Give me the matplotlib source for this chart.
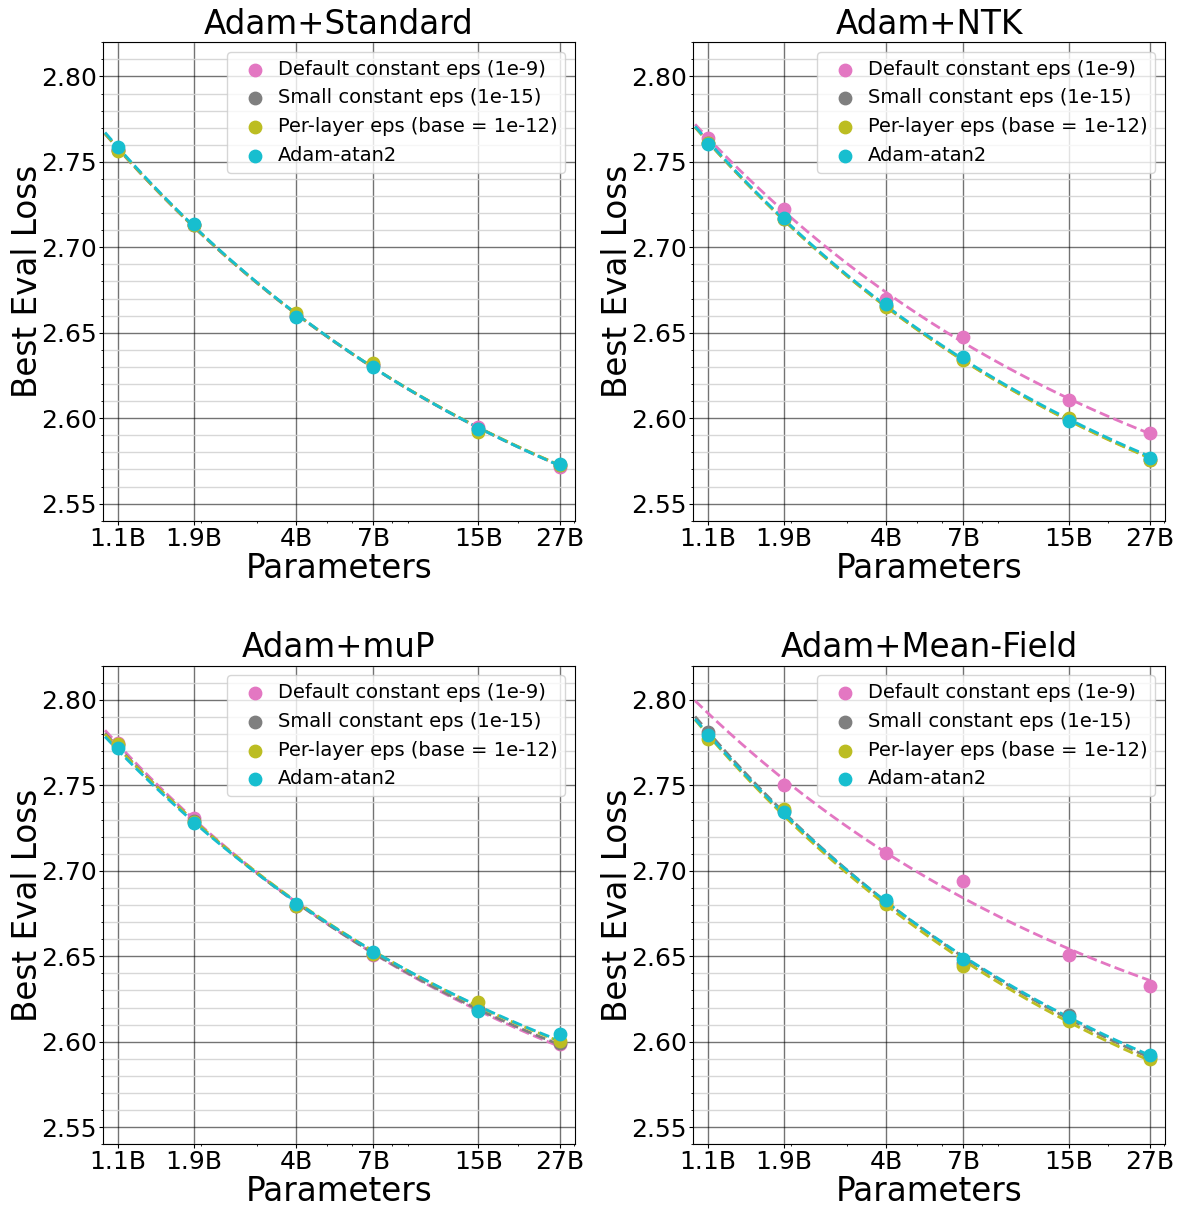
import numpy as np
import matplotlib
matplotlib.use("Agg")
import matplotlib.pyplot as plt
from matplotlib.ticker import MultipleLocator, NullFormatter, LogLocator, FormatStrFormatter

params = [1.1e9, 1.9e9, 4e9, 7e9, 15e9, 27e9]
tick_labels = ["1.1B", "1.9B", "4B", "7B", "15B", "27B"]

series_names = ["Default constant eps (1e-9)", "Small constant eps (1e-15)",
                "Per-layer eps (base = 1e-12)", "Adam-atan2"]
colors = ["#e377c2", "#7f7f7f", "#bcbd22", "#17becf"]

titles = ["Adam+Standard", "Adam+NTK", "Adam+muP", "Adam+Mean-Field"]

# Adam+Standard
std_default = [2.757, 2.713, 2.660, 2.631, 2.5947, 2.5714]
std_small = [2.757, 2.713, 2.660, 2.631, 2.5935, 2.5725]
std_perlayer = [2.7566, 2.713, 2.6613, 2.6321, 2.5922, 2.5728]
std_atan2 = [2.7586, 2.7134, 2.6593, 2.6301, 2.5938, 2.5733]

# Adam+NTK
ntk_default = [2.764, 2.7222, 2.6696, 2.6478, 2.6107, 2.5912]
ntk_small = [2.761, 2.7163, 2.6655, 2.6345, 2.5995, 2.5758]
ntk_perlayer = [2.761, 2.7165, 2.6648, 2.6340, 2.6000, 2.5753]
ntk_atan2 = [2.7607, 2.7173, 2.6667, 2.6360, 2.5986, 2.5768]

# Adam+muP
mup_default = [2.7747, 2.7309, 2.6795, 2.6507, 2.6185, 2.5985]
mup_small = [2.7735, 2.7290, 2.6795, 2.6515, 2.6190, 2.5995]
mup_perlayer = [2.7740, 2.7285, 2.6793, 2.6515, 2.6232, 2.6006]
mup_atan2 = [2.7720, 2.7280, 2.6803, 2.6526, 2.6180, 2.6043]

# Adam+Mean-Field
mf_default = [np.nan, 2.7500, 2.7106, 2.6941, 2.6510, 2.6328]
mf_small = [2.7815, 2.7350, 2.6820, 2.6460, 2.6156, 2.5910]
mf_perlayer = [2.7772, 2.7363, 2.6803, 2.6442, 2.6121, 2.5897]
mf_atan2 = [2.7792, 2.7344, 2.6832, 2.6481, 2.6146, 2.5923]

panels = [
    [std_default, std_small, std_perlayer, std_atan2],
    [ntk_default, ntk_small, ntk_perlayer, ntk_atan2],
    [mup_default, mup_small, mup_perlayer, mup_atan2],
    [mf_default, mf_small, mf_perlayer, mf_atan2],
]


def fit_all(x, ys_list):
    """Least-squares fit of y = c + A * x^-b, exponent b shared by all series."""
    x = np.asarray(x, float) / 1e9
    best = None
    for b in np.linspace(0.1, 1.2, 441):
        total = 0.0
        coefs = []
        for ys in ys_list:
            y = np.asarray(ys, float)
            m = ~np.isnan(y)
            X = np.column_stack([np.ones(m.sum()), x[m] ** (-b)])
            coef, *_ = np.linalg.lstsq(X, y[m], rcond=None)
            total += np.sum((y[m] - X @ coef) ** 2)
            coefs.append(coef)
        if best is None or total < best[0]:
            best = (total, b, coefs)
    _, b, coefs = best
    return [(lambda xx, c=c: c[0] + c[1] * (np.asarray(xx) / 1e9) ** (-b))
            for c in coefs]


all_series = [ys for data in panels for ys in data]
all_fits = fit_all(params, all_series)

fig = plt.figure(figsize=(11.78, 12.07), dpi=100)
fig.subplots_adjust(left=0.0874, right=0.989, top=0.965, bottom=0.052,
                    wspace=0.25, hspace=0.303)
axes = fig.subplots(2, 2).ravel()

xfit = np.logspace(np.log10(1.0e9), np.log10(27e9), 200)

for i, (ax, title, data) in enumerate(zip(axes, titles, panels)):
    fits = all_fits[4 * i:4 * i + 4]
    for col, f in zip(colors, fits):
        ax.plot(xfit, f(xfit), linestyle="--", color=col, lw=2, zorder=3)
    for name, col, ys in zip(series_names, colors, data):
        ax.scatter(params, ys, s=80, color=col, label=name, zorder=4)
    ax.set_xscale("log")
    ax.set_xlim(0.985e9, 30.2e9)
    ax.set_ylim(2.54, 2.82)
    ax.set_xticks(params)
    ax.set_xticklabels(tick_labels)
    ax.xaxis.set_minor_locator(LogLocator(base=10, subs=np.arange(2, 10)))
    ax.xaxis.set_minor_formatter(NullFormatter())
    ax.yaxis.set_major_locator(MultipleLocator(0.05))
    ax.yaxis.set_minor_locator(MultipleLocator(0.01))
    ax.yaxis.set_major_formatter(FormatStrFormatter("%.2f"))
    ax.tick_params(axis="both", which="major", labelsize=18, length=3, pad=1.5)
    ax.tick_params(axis="both", which="minor", length=1.5)
    ax.grid(True, which="major", color="black", alpha=0.55, lw=1)
    ax.grid(True, which="minor", axis="y", color="lightgray", alpha=0.9, lw=1)
    ax.set_axisbelow(True)
    ax.set_title(title, fontsize=23.5, pad=6)
    ax.set_xlabel("Parameters", fontsize=23.5, labelpad=0.5)
    ax.set_ylabel("Best Eval Loss", fontsize=23.5, labelpad=-2)
    ax.legend(loc="upper right", fontsize=14, handletextpad=0.2,
              borderaxespad=0.5)

fig.savefig("out.png", dpi=100)
